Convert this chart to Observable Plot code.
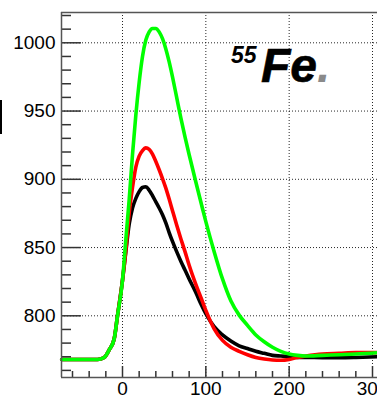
<!DOCTYPE html>
<html>
<head>
<meta charset="utf-8">
<script src="https://cdn.jsdelivr.net/npm/d3@7"></script>
<script src="https://cdn.jsdelivr.net/npm/@observablehq/plot@0.6"></script>
<style>
  html, body { margin: 0; padding: 0; background: #fff; overflow: hidden; }
  #wrap { position: relative; width: 377px; height: 397px; overflow: hidden; }
  #frag { position: absolute; left: 0; top: 100px; width: 2px; height: 34px; background: #000; }
</style>
</head>
<body>
<div id="wrap"><div id="frag"></div></div>
<script>
// time samples (x) shared by the three waveforms
const t = [-73, -60, -45, -30, -22, -16, -10, -6,
  0, 4, 8, 12, 16, 20, 24, 28, 32, 36, 40, 44, 48, 52, 56, 60,
  65, 70, 75, 80, 88, 95, 100,
  110, 120, 130, 140, 150, 160, 170, 180, 190, 200,
  210, 220, 240, 260, 280, 306];

const blackSeries = [768, 768, 768, 768, 769.5, 775, 783, 800,
  826, 847, 867, 879, 886, 891, 894, 894.5, 892, 888, 883.5, 879, 874, 868, 861, 854.5,
  847, 840, 833.5, 827, 817, 807.5, 801.5,
  792, 786, 781.5, 778, 776, 774, 772.5, 771, 770.5, 770,
  769.5, 769.5, 769.3, 769.3, 769.5, 770];

const redSeries = [768, 768, 768, 768, 769.5, 775, 783, 800,
  826, 848, 875, 894, 909, 917, 921, 923, 922, 918.5, 913, 907, 900.5, 893.5, 885.5, 877,
  866.5, 856.5, 847, 837, 823, 812, 804,
  790.5, 782, 777, 774, 771.5, 769.5, 768.3, 767.6, 767.4, 768,
  769.5, 770.5, 772, 772.5, 773, 773];

const greenSeries = [768, 768, 768, 768, 769.5, 775, 783, 800,
  826, 856, 885, 918, 947, 971, 990, 1002, 1008, 1010.5, 1010.5, 1008, 1003, 995.5, 986, 975,
  960, 945, 931, 918, 898, 881, 869,
  847, 827, 811, 800.5, 793, 786, 781, 777, 774, 772,
  771, 770.5, 771, 771.5, 772, 773];

const xDomain = [-73.2, 306];
const yDomain = [754.8, 1022.2];
const xMajor = [0, 100, 200, 300];
const xMinor = [-60, -40, -20, 20, 40, 60, 80, 120, 140, 160, 180, 220, 240, 260, 280];
const yMajor = [800, 850, 900, 950, 1000];
const yMinor = [760, 770, 780, 790, 810, 820, 830, 840, 860, 870, 880, 890,
  910, 920, 930, 940, 960, 970, 980, 990, 1010, 1020];

const rows = t.map((x, i) => ({t: x, black: blackSeries[i], red: redSeries[i], green: greenSeries[i]}));

const font = "'Liberation Sans', Arial, Helvetica, sans-serif";
const axisStroke = "#333";

const chart = Plot.plot({
  width: 377,
  height: 397,
  marginLeft: 61,
  marginRight: 0,
  marginTop: 12,
  marginBottom: 20,
  x: {domain: xDomain},
  y: {domain: yDomain},
  style: {fontFamily: font, background: "#fff", overflow: "hidden"},
  marks: [
    Plot.gridX(xMajor, {stroke: "#000", strokeOpacity: 0.85, strokeDasharray: "1,2", strokeWidth: 1}),
    Plot.gridY(yMajor, {stroke: "#000", strokeOpacity: 0.85, strokeDasharray: "1,2", strokeWidth: 1}),
    Plot.line(rows, {x: "t", y: "black", stroke: "#000", strokeWidth: 3.6, curve: "monotone-x"}),
    Plot.line(rows, {x: "t", y: "red", stroke: "#ff0000", strokeWidth: 3.6, curve: "monotone-x"}),
    Plot.line(rows, {x: "t", y: "green", stroke: "#00ff00", strokeWidth: 3.6, curve: "monotone-x"}),
    Plot.axisX(xMinor, {tickSize: -6, tickFormat: () => "", stroke: axisStroke, strokeWidth: 1.5, label: null}),
    Plot.axisX(xMajor, {tickSize: -11, tickPadding: 15, tickFormat: d => String(d), stroke: axisStroke, strokeWidth: 1.5,
      fill: "#000", fontSize: 19, fontFamily: font, label: null}),
    Plot.axisY(yMinor, {tickSize: -10, tickFormat: () => "", stroke: axisStroke, strokeWidth: 1.5, label: null}),
    Plot.axisY(yMajor, {tickSize: -20, tickPadding: 26, tickFormat: d => String(d), stroke: axisStroke, strokeWidth: 1.5,
      fill: "#000", fontSize: 19, fontFamily: font, label: null}),
    Plot.ruleX([xDomain[0]], {stroke: "#555", strokeWidth: 1.5}),
    Plot.ruleY(yDomain, {stroke: "#555", strokeWidth: 1.5})
  ]
});

// isotope annotation
const svg = d3.select(chart);
svg.append("text")
  .attr("x", 231).attr("y", 63)
  .attr("text-anchor", "start")
  .style("font-family", font).style("font-size", "23px")
  .style("font-weight", "700").style("font-style", "italic")
  .attr("fill", "#000")
  .text("55");
const fe = svg.append("text")
  .attr("x", 261).attr("y", 82)
  .attr("text-anchor", "start")
  .style("font-family", font).style("font-size", "48px")
  .style("font-weight", "700").style("font-style", "italic")
  .attr("fill", "#000")
  .attr("stroke", "#000").attr("stroke-width", 0.6);
fe.append("tspan").text("Fe");
fe.append("tspan").attr("fill", "#8a8a8a").attr("stroke", "none").text(".");

document.getElementById("wrap").prepend(chart);
</script>
</body>
</html>
